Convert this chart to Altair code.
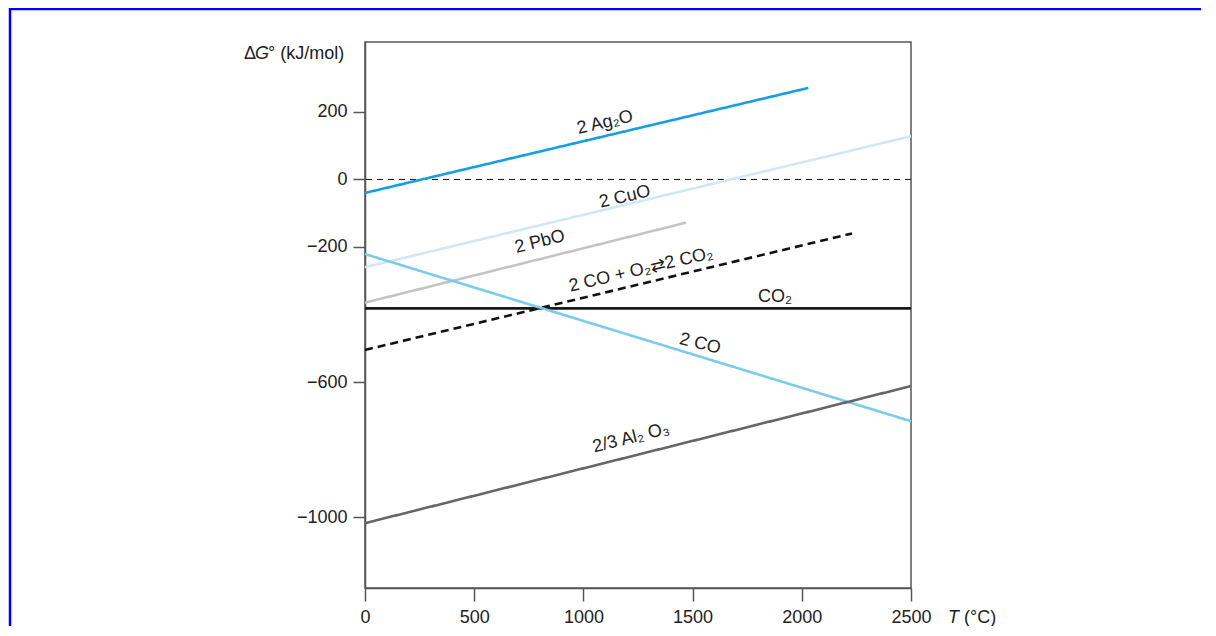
import altair as alt
import pandas as pd

FONT = "Liberation Sans, Arial, Helvetica, sans-serif"

# ---- data ----
series = ["2 Ag2O", "2 CuO", "2 PbO", "2 CO + O2 -> 2 CO2", "CO2", "2 CO", "2/3 Al2O3"]
t_start = [0, 0, 0, 0, 0, 0, 0]
t_end = [2030, 2500, 1470, 2230, 2500, 2500, 2500]
g_start = [-40, -260, -365, -505, -382, -221, -1018]
g_end = [271, 128, -128, -160, -382, -716, -612]
colors = ["#139fe3", "#cfe8f6", "#c4c4c4", "#111111", "#1a1a1a", "#7ccbec", "#666666"]
dashes = [[1, 0], [1, 0], [1, 0], [8, 5], [1, 0], [1, 0], [1, 0]]

label_text = ["2 Ag₂O", "2 CuO", "2 PbO", "2 CO + O₂⇄2 CO₂", "CO₂", "2 CO", "2/3 Al₂ O₃"]
label_t = [1099, 1190, 801, 1264, 1877, 1534, 1218]
label_g = [168, -52, -185, -268, -348, -487, -766]
label_angle = [346.8, 346.7, 346.0, 346.7, 0, 14, 346]

x_ticks = [0, 500, 1000, 1500, 2000, 2500]
y_ticks = [200, 0, -200, -600, -1000]
zero_level = [0]

rows = []
for s, t0, t1, g0, g1 in zip(series, t_start, t_end, g_start, g_end):
    rows.append({"series": s, "t": t0, "g": g0})
    rows.append({"series": s, "t": t1, "g": g1})
lines_df = pd.DataFrame(rows)
labels_df = pd.DataFrame({"text": label_text, "t": label_t, "g": label_g, "angle": label_angle})
zero_df = pd.DataFrame({"g": zero_level})

W, H = 546, 546
xs = alt.Scale(domain=[0, 2500], nice=False)
ys = alt.Scale(domain=[-1210, 407], nice=False)

base_x = alt.X("t:Q", scale=xs,
               axis=alt.Axis(values=x_ticks, title=None, grid=False, tickSize=13,
                             labelPadding=7, format="d", labelFlush=False))
base_y = alt.Y("g:Q", scale=ys,
               axis=alt.Axis(values=y_ticks, title=None, grid=False, tickSize=12,
                             labelPadding=6, format="d", labelFlush=False))

zero = alt.Chart(zero_df).mark_rule(color="#111111", strokeWidth=1, strokeDash=[6, 5]).encode(
    y=alt.Y("g:Q", scale=ys)
)

lines = alt.Chart(lines_df).mark_line(strokeWidth=2.6).encode(
    x=base_x,
    y=base_y,
    color=alt.Color("series:N", scale=alt.Scale(domain=series, range=colors), legend=None),
    strokeDash=alt.StrokeDash("series:N", scale=alt.Scale(domain=series, range=dashes), legend=None),
    detail="series:N",
    order=alt.Order("t:Q"),
)

labels = alt.Chart(labels_df).mark_text(fontSize=18, font=FONT, color="#222222",
                                         align="center", baseline="middle").encode(
    x=alt.X("t:Q", scale=xs),
    y=alt.Y("g:Q", scale=ys),
    text="text:N",
    angle=alt.Angle("angle:Q", scale=None),
)

def txt(s, x, y, align="left", style="normal"):
    return alt.Chart(zero_df).mark_text(fontSize=18, font=FONT, color="#222222", align=align,
                                        baseline="alphabetic", fontStyle=style).encode(
        x=alt.value(x), y=alt.value(y), text=alt.value(s))

ytitle = txt("Δ", -121, 17) + txt("G", -110, 17, style="italic") + txt("° (kJ/mol)", -97, 17)
xtitle = txt("T", 583, 581, style="italic") + txt("(°C)", 599, 581)

frame_left = alt.Chart(zero_df).mark_rule(color="#0000ff", strokeWidth=2.5).encode(
    x=alt.value(-355), y=alt.value(-34), y2=alt.value(620))
frame_top = alt.Chart(zero_df).mark_rule(color="#0000ff", strokeWidth=2.5).encode(
    x=alt.value(-356), x2=alt.value(860), y=alt.value(-33))

chart = alt.layer(zero, lines, labels, ytitle, xtitle, frame_left, frame_top).properties(
    width=W, height=H,
    autosize=alt.AutoSizeParams(type="none"),
    padding={"left": 357, "top": 34, "right": 290, "bottom": 38},
).configure_view(
    stroke="#555555", strokeWidth=1.5
).configure_axis(
    domainColor="#555555", domainWidth=1.5, tickColor="#555555", tickWidth=1.5,
    labelFont=FONT, labelFontSize=18, labelColor="#222222",
)

chart.save("out.html", embed_options={"renderer": "svg", "actions": False})
